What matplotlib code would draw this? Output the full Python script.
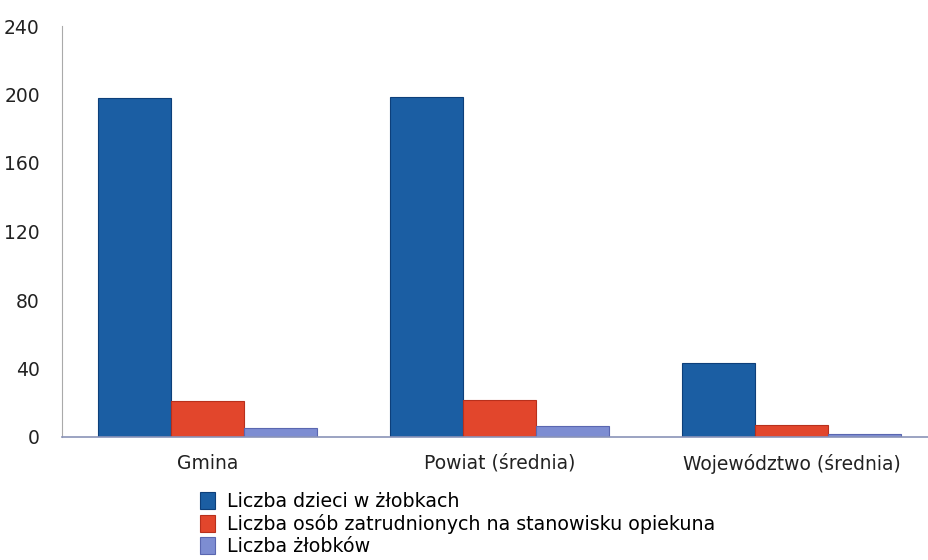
import numpy as np
import matplotlib.pyplot as plt

categories = ['Gmina', 'Powiat (średnia)', 'Województwo (średnia)']
series_names = ['Liczba dzieci w żłobkach',
                'Liczba osób zatrudnionych na stanowisku opiekuna',
                'Liczba żłobków']
dzieci = [198, 198.5, 43]
opiekunowie = [21, 21.5, 7]
zlobki = [5.5, 6.5, 2]

colors = ['#1b5ea3', '#e2462c', '#7d8dd2']
edges = ['#0d3f7a', '#b8301c', '#5a67b0']

plt.rcParams['font.family'] = 'DejaVu Sans'

fig = plt.figure(figsize=(9.29, 5.6), dpi=100)
ax = fig.add_axes([62/929, 1-437/560, 876/929, 411/560])

x = np.arange(len(categories))
w = 0.25
for i, (vals, name) in enumerate(zip([dzieci, opiekunowie, zlobki], series_names)):
    ax.bar(x + (i-1)*w, vals, w, color=colors[i], edgecolor=edges[i], linewidth=0.8, label=name)

ax.set_xlim(-0.5, 2.5)
ax.set_ylim(0, 240)
ax.set_yticks(np.arange(0, 241, 40))
ax.set_xticks(x)
ax.set_xticklabels(categories)
ax.tick_params(axis='both', length=0, labelsize=13.5, colors='#222222')
ax.tick_params(axis='x', pad=12)
ax.tick_params(axis='y', pad=16)
for s in ['top', 'right']:
    ax.spines[s].set_visible(False)
ax.spines['left'].set_color('#aaaaaa')
ax.spines['left'].set_linewidth(0.8)
ax.spines['bottom'].set_color('#8a93b8')
ax.spines['bottom'].set_linewidth(1.2)

fig.legend(loc='upper left', bbox_to_anchor=(200/929, 1-492/560), frameon=False,
           fontsize=13.7, labelspacing=0.15, handlelength=0.8, handleheight=1.0,
           handletextpad=0.6, borderaxespad=0, borderpad=0)

fig.savefig('out.png', dpi=100)
